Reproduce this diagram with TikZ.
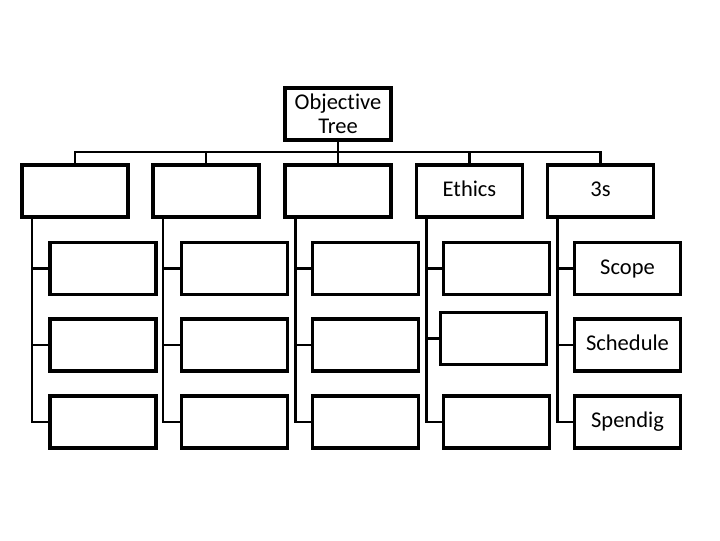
\documentclass[tikz,border=0pt]{standalone}
\usepackage{fontspec}
\setmainfont{Carlito}[Ligatures=NoCommon]
\usetikzlibrary{calc}

\begin{document}
\begin{tikzpicture}[x=0.025cm, y=-0.025cm,
  every node/.style={font=\fontsize{16}{17}\selectfont},
  tbox/.style={draw, line width=2.8pt, minimum width=2.65cm, minimum height=1.3cm, inner sep=2pt, align=center},
  lbl/.style={text height=11pt, text depth=3pt},
  conn/.style={line width=2.1pt}
]
\useasboundingbox (0,0) rectangle (720,540);
\node[tbox] (root) at (338,114) {Objective\\Tree};
\coordinate (bus) at (338,152);

\node[tbox] (g1) at ( 75,191) {};
\node[tbox] (g2) at (206,191) {};
\node[tbox] (g3) at (338,191) {};
\node[tbox, lbl] (g4) at (469.5,191) {Ethics};
\node[tbox, lbl] (g5) at (600.5,191) {3s};

\foreach \i/\x in {1/103, 2/234.5, 3/365.5}
  \foreach \j/\y in {1/268.5, 2/345, 3/422}
    \node[tbox] (c\i\j) at (\x,\y) {};
\node[tbox] (c41) at (496.5,268.5) {};
\node[tbox] (c42) at (493.5,338.5) {};
\node[tbox] (c43) at (496.5,422) {};
\node[tbox, lbl] (c51) at (627.5,268.5) {Scope};
\node[tbox, lbl] (c52) at (627.5,345) {Schedule};
\node[tbox, lbl] (c53) at (627.5,422) {Spendig};

\foreach \i in {1,...,5}
  \draw[conn] (root.south) -- (bus) -| (g\i.north);
\foreach \i in {1,...,5}
  \foreach \j in {1,2,3}
    \draw[conn] ($(g\i.south west)+(12,0)$) |- (c\i\j.west);
\end{tikzpicture}
\end{document}
